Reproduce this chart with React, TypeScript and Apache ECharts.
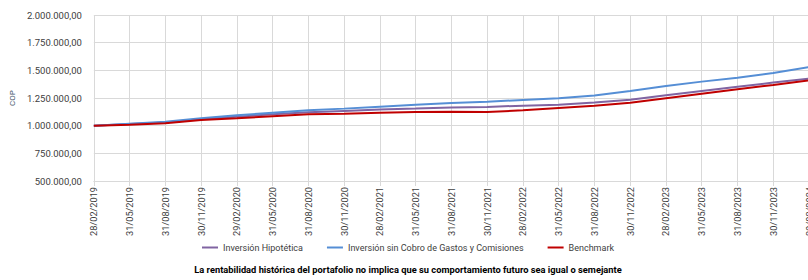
import React, { useEffect, useRef } from "react";
import * as echarts from "echarts";

const dates = [
  "28/02/2019", "31/05/2019", "31/08/2019", "30/11/2019", "29/02/2020",
  "31/05/2020", "31/08/2020", "30/11/2020", "28/02/2021", "31/05/2021",
  "31/08/2021", "30/11/2021", "28/02/2022", "31/05/2022", "31/08/2022",
  "30/11/2022", "28/02/2023", "31/05/2023", "31/08/2023", "30/11/2023",
  "29/02/2024",
];

const inversionHipotetica = [
  1000000, 1014000, 1029000, 1059000, 1081000, 1103000, 1121000, 1133000,
  1145000, 1154000, 1164000, 1169000, 1181000, 1189000, 1210000, 1235000,
  1275000, 1314000, 1352000, 1389000, 1425000,
];

const inversionSinCobro = [
  1000000, 1018000, 1036000, 1067000, 1094000, 1117000, 1139000, 1154000,
  1172000, 1190000, 1205000, 1217000, 1232000, 1248000, 1273000, 1314000,
  1359000, 1398000, 1434000, 1476000, 1530000,
];

const benchmark = [
  1000000, 1009000, 1022000, 1052000, 1067000, 1085000, 1103000, 1108000,
  1117000, 1124000, 1126000, 1124000, 1139000, 1160000, 1181000, 1208000,
  1248000, 1289000, 1329000, 1368000, 1410000,
];

const seriesNames = [
  "Inversión Hipotética",
  "Inversión sin Cobro de Gastos y Comisiones",
  "Benchmark",
];
const seriesColors = ["#8064a2", "#558ed5", "#c00000"];

const footnote =
  "La rentabilidad histórica del portafolio no implica que su comportamiento futuro sea igual o semejante";

const FONT = "Roboto, 'Open Sans', sans-serif";

function fmt(v: number): string {
  const s = Math.round(v).toString().replace(/\B(?=(\d{3})+(?!\d))/g, ".");
  return s + ",00";
}

export default function App() {
  const ref = useRef<HTMLDivElement>(null);
  useEffect(() => {
    if (!ref.current) return;
    const chart = echarts.init(ref.current, undefined, { renderer: "svg" });
    const values = [inversionHipotetica, inversionSinCobro, benchmark];
    chart.setOption({
      animation: false,
      backgroundColor: "#ffffff",
      grid: { left: 87, right: 7, top: 15, bottom: 99, containLabel: false },
      xAxis: {
        type: "category",
        data: dates,
        boundaryGap: false,
        axisLine: { show: true, lineStyle: { color: "#d9d9d9", width: 1 } },
        axisTick: { show: true, length: 5, lineStyle: { color: "#d9d9d9" } },
        splitLine: { show: true, lineStyle: { color: "#d9d9d9", width: 1 } },
        axisLabel: {
          rotate: 90,
          interval: 0,
          margin: 6,
          color: "#404040",
          fontFamily: FONT,
          fontSize: 9.2,
        },
      },
      yAxis: {
        type: "value",
        min: 500000,
        max: 2000000,
        interval: 250000,
        name: "COP",
        nameLocation: "middle",
        nameRotate: 90,
        nameGap: 74,
        nameTextStyle: { color: "#44546a", fontSize: 8, fontFamily: FONT },
        axisLine: { show: false },
        axisTick: { show: false },
        splitLine: { show: true, lineStyle: { color: "#d9d9d9", width: 1 } },
        axisLabel: {
          formatter: (v: number) => fmt(v),
          color: "#404040",
          fontFamily: FONT,
          fontSize: 9.5,
          margin: 12,
        },
      },
      legend: {
        left: "center",
        top: 238,
        icon: "rect",
        itemWidth: 16,
        itemHeight: 2,
        itemGap: 24,
        textStyle: { color: "#404040", fontFamily: FONT, fontSize: 9 },
        data: seriesNames,
      },
      graphic: [
        {
          type: "text",
          left: "center",
          top: 265,
          style: {
            text: footnote,
            fill: "#000000",
            font: `bold 9.3px ${FONT}`,
          },
        },
      ],
      series: seriesNames.map((name, i) => ({
        name,
        type: "line",
        data: values[i],
        showSymbol: false,
        symbol: "none",
        lineStyle: { color: seriesColors[i], width: 2 },
        itemStyle: { color: seriesColors[i] },
        z: 2 + i,
      })),
    });
    return () => chart.dispose();
  }, []);
  return (
    <div
      style={{
        position: "fixed",
        left: 0,
        top: 0,
        width: 808,
        height: 280,
        overflow: "hidden",
        background: "#fff",
      }}
    >
      <div ref={ref} style={{ width: 816, height: 280 }} />
    </div>
  );
}
